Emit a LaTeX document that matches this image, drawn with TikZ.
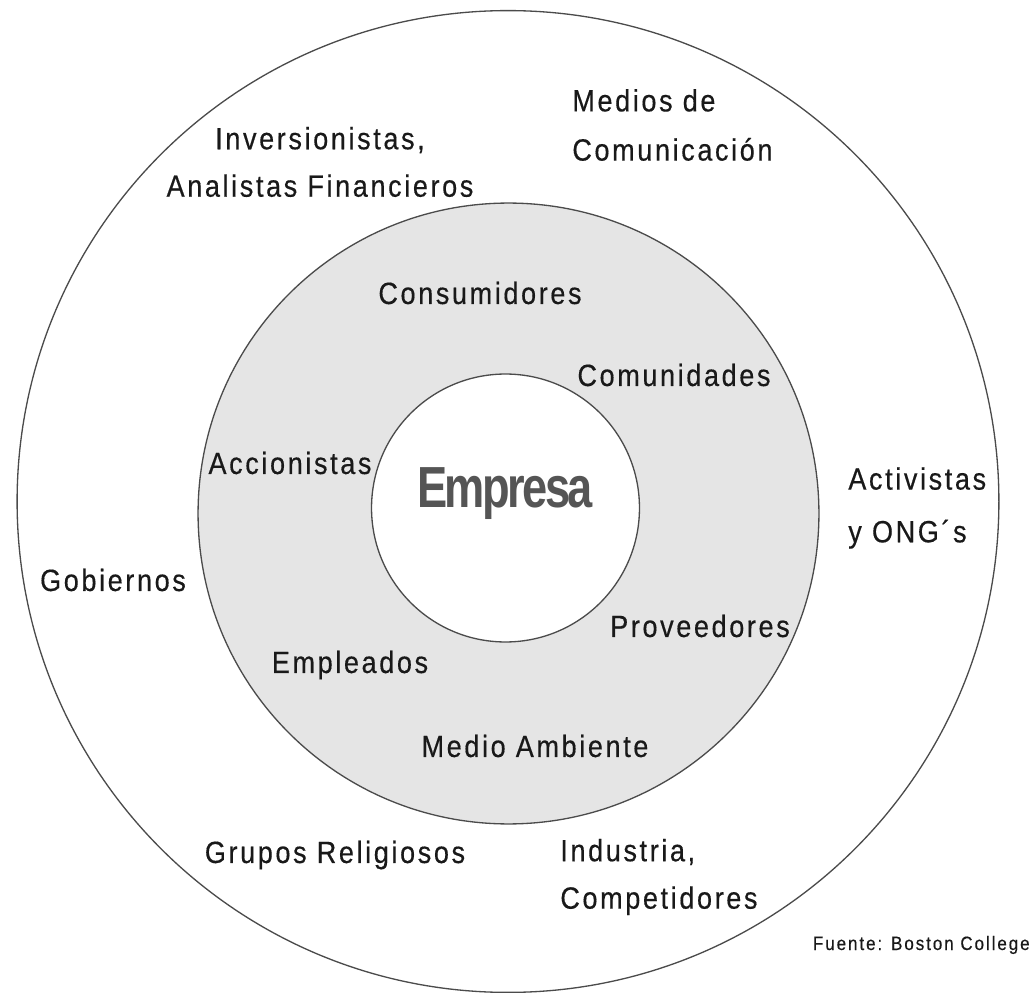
\documentclass[tikz,border=0pt]{standalone}
\usepackage{fontspec}
\setmainfont{Liberation Sans}[FakeStretch=0.88,LetterSpace=8.5,FakeBold=0.4]
\newfontfamily\brandfont{Liberation Sans}[FakeStretch=0.78,LetterSpace=-4.4]
\newfontfamily\notefont{Liberation Sans}[FakeStretch=0.88,LetterSpace=10,FakeBold=0.4]
\usepackage{tikz}
\definecolor{ringfill}{RGB}{229,229,229}
\definecolor{rim}{RGB}{75,75,75}
\definecolor{brand}{RGB}{85,85,85}
\definecolor{ink}{RGB}{25,25,25}
\tikzset{
  disc/.style={circle, draw=rim, line width=0.75pt, inner sep=0pt},
  % textos de los grupos
  lbl/.style={text=ink, inner sep=0pt, text height=12.5pt, text depth=0pt},
  lbls/.style={text=ink, inner sep=0pt, align=left},
  % centro y fuente
  brand/.style={text=brand, inner sep=0pt, font=\brandfont\bfseries\fontsize{33}{33}\selectfont},
  note/.style={text=ink, inner sep=0pt, font=\notefont\fontsize{11}{13}\selectfont}
}

\begin{document}
\begin{tikzpicture}[x=0.02cm, y=-0.02cm, font=\fontsize{17.5}{27}\selectfont]
  \useasboundingbox (0,0) rectangle (1032,993);
  % anillos
  \node[disc, minimum size=19.64cm] (outer) at (508,501.5) {};
  \node[disc, fill=ringfill, minimum size=12.42cm] (ring) at (508.5,513.5) {};
  \node[disc, fill=white, minimum size=5.36cm] (core) at (505.5,508) {};
  \node[brand] (empresa) at (505,494) {Empresa};
  % anillo interior
  \foreach \name/\x/\y/\txt in {consumidores/480/293/Consumidores,
      comunidades/674/375/Comunidades, accionistas/290/463/Accionistas,
      proveedores/700/626/Proveedores, empleados/350/662/Empleados,
      ambiente/535/746/Medio Ambiente}{
    \node[lbl] (\name) at (\x,\y) {\txt};
  }
  % anillo exterior
  \node[lbl] (gobiernos) at (113,580) {Gobiernos};
  \node[lbl] (religiosos) at (335,852) {Grupos Religiosos};
  \node[lbls, align=center] (inversionistas) at (320,162) {Inversionistas,\\Analistas Financieros};
  \node[lbls, anchor=west] (medios) at (572,125) {Medios de\\[1pt]Comunicación};
  \node[lbls, anchor=west] (activistas) at (848,508) {Activistas\\[3pt]y ONG´s};
  \node[lbls, anchor=west] (industria) at (560,877) {Industria,\\Competidores};
  \node[note, anchor=east] (fuente) at (1030,945) {Fuente: Boston College};
\end{tikzpicture}
\end{document}
